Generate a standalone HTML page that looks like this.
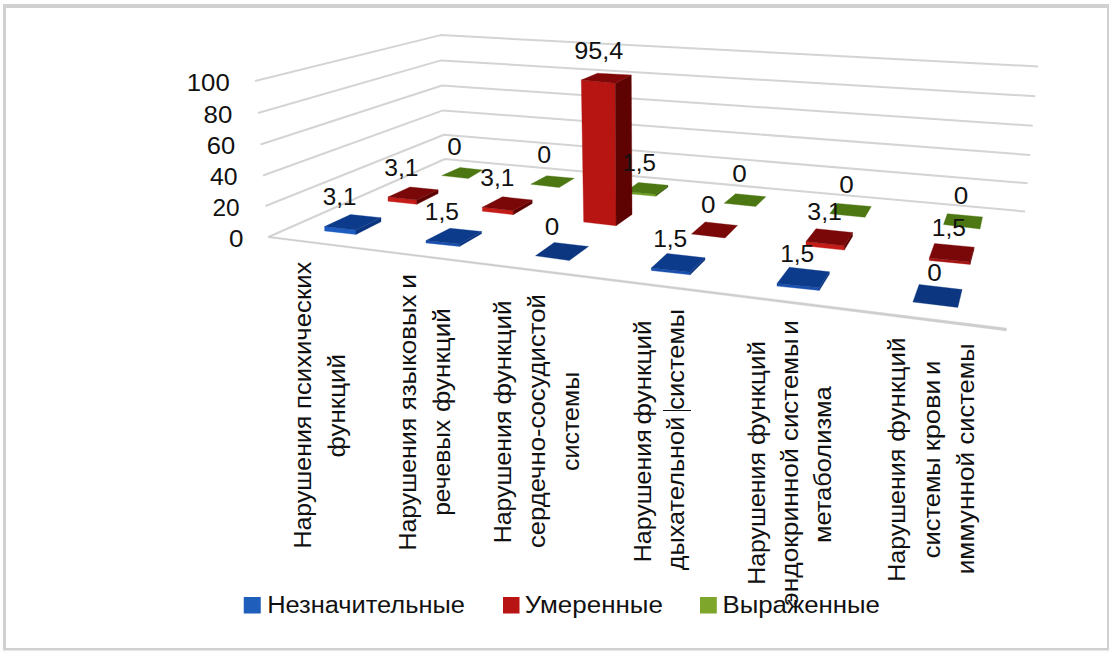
<!DOCTYPE html>
<html><head><meta charset="utf-8"><title>Chart</title>
<style>html,body{margin:0;padding:0;background:#fefefe;}svg{display:block;}</style></head>
<body><svg width="1112" height="653" viewBox="0 0 1112 653">
<rect x="0" y="0" width="1112" height="653" fill="#fefefe"/>
<path fill-rule="evenodd" fill="#d0d0d0" d="M3,4 H1109 V650.5 H3 Z M6,8 H1107 V648 H6 Z"/>
<rect x="6" y="8" width="1101" height="640" fill="#ffffff"/>
<polyline points="255.00,81.00 440.60,35.10 1038.25,66.50" fill="none" stroke="#d4d4d4" stroke-width="2.00" stroke-linejoin="round"/>
<polyline points="258.00,113.00 441.00,60.40 1035.25,96.25" fill="none" stroke="#d4d4d4" stroke-width="2.00" stroke-linejoin="round"/>
<polyline points="260.50,144.50 442.00,85.50 1032.75,125.75" fill="none" stroke="#d4d4d4" stroke-width="2.00" stroke-linejoin="round"/>
<polyline points="263.00,175.50 443.00,110.40 1030.25,155.00" fill="none" stroke="#d4d4d4" stroke-width="2.00" stroke-linejoin="round"/>
<polyline points="265.50,206.00 444.00,134.70 1027.60,183.20" fill="none" stroke="#d4d4d4" stroke-width="2.00" stroke-linejoin="round"/>
<polyline points="268.50,237.00 445.00,159.00 1025.00,211.50" fill="none" stroke="#d4d4d4" stroke-width="2.00" stroke-linejoin="round"/>
<polygon points="268.50,236.30 1006.50,328.10 1006.50,330.90 268.50,237.70" fill="#cecece" stroke="#cecece" stroke-width="0.35" stroke-linejoin="round" />
<polygon points="441.80,175.60 460.00,167.50 482.50,170.00 468.30,178.50" fill="#4c7712" stroke="#4c7712" stroke-width="0.35" stroke-linejoin="round" />
<polygon points="530.80,184.20 546.70,175.80 574.20,178.30 559.20,187.50" fill="#4c7712" stroke="#4c7712" stroke-width="0.35" stroke-linejoin="round" />
<polygon points="626.00,191.60 655.80,194.20 655.80,196.20 626.00,193.60" fill="#6f9f22" stroke="#6f9f22" stroke-width="0.35" stroke-linejoin="round" />
<polygon points="655.80,194.20 668.00,185.30 668.00,187.10 655.80,196.20" fill="#3c5e0c" stroke="#3c5e0c" stroke-width="0.35" stroke-linejoin="round" />
<polygon points="626.00,191.60 638.30,182.50 668.00,185.30 655.80,194.20" fill="#4c7712" stroke="#4c7712" stroke-width="0.35" stroke-linejoin="round" />
<polygon points="724.20,203.30 735.50,193.80 765.80,196.70 755.70,206.50" fill="#4c7712" stroke="#4c7712" stroke-width="0.35" stroke-linejoin="round" />
<polygon points="829.80,213.70 837.20,203.40 871.30,206.50 865.00,217.30" fill="#4c7712" stroke="#4c7712" stroke-width="0.35" stroke-linejoin="round" />
<polygon points="943.50,224.50 947.30,213.70 982.50,217.00 980.00,229.00" fill="#4c7712" stroke="#4c7712" stroke-width="0.35" stroke-linejoin="round" />
<polygon points="388.00,197.00 416.80,200.10 416.80,204.30 388.00,201.20" fill="#c61c18" stroke="#c61c18" stroke-width="0.35" stroke-linejoin="round" />
<polygon points="416.80,200.10 438.10,189.80 438.10,193.58 416.80,204.30" fill="#5c0000" stroke="#5c0000" stroke-width="0.35" stroke-linejoin="round" />
<polygon points="388.00,197.00 410.00,187.00 438.10,189.80 416.80,200.10" fill="#7a0808" stroke="#7a0808" stroke-width="0.35" stroke-linejoin="round" />
<polygon points="482.40,207.20 513.20,210.70 513.20,214.70 482.40,211.20" fill="#c61c18" stroke="#c61c18" stroke-width="0.35" stroke-linejoin="round" />
<polygon points="513.20,210.70 532.20,200.00 532.20,203.60 513.20,214.70" fill="#5c0000" stroke="#5c0000" stroke-width="0.35" stroke-linejoin="round" />
<polygon points="482.40,207.20 502.50,196.80 532.20,200.00 513.20,210.70" fill="#7a0808" stroke="#7a0808" stroke-width="0.35" stroke-linejoin="round" />
<polygon points="581.30,80.00 615.30,83.20 616.10,225.80 583.70,222.00" fill="#b61512" stroke="#b61512" stroke-width="0.35" stroke-linejoin="round" />
<polygon points="615.30,83.20 631.30,75.00 632.00,214.50 616.10,225.80" fill="#5e0202" stroke="#5e0202" stroke-width="0.35" stroke-linejoin="round" />
<polygon points="581.30,80.00 597.50,73.20 631.30,75.00 615.30,83.20" fill="#7f0707" stroke="#7f0707" stroke-width="0.35" stroke-linejoin="round" />
<polygon points="691.50,234.00 705.20,222.00 737.50,225.50 725.00,237.90" fill="#7a0808" stroke="#7a0808" stroke-width="0.35" stroke-linejoin="round" />
<polygon points="806.00,241.50 844.30,245.70 844.30,250.10 806.00,245.90" fill="#c61c18" stroke="#c61c18" stroke-width="0.35" stroke-linejoin="round" />
<polygon points="844.30,245.70 852.50,232.50 852.50,236.46 844.30,250.10" fill="#5c0000" stroke="#5c0000" stroke-width="0.35" stroke-linejoin="round" />
<polygon points="806.00,241.50 816.00,228.70 852.50,232.50 844.30,245.70" fill="#7a0808" stroke="#7a0808" stroke-width="0.35" stroke-linejoin="round" />
<polygon points="929.30,258.00 970.00,262.00 970.00,264.40 929.30,260.40" fill="#a91513" stroke="#a91513" stroke-width="0.35" stroke-linejoin="round" />
<polygon points="970.00,262.00 974.00,247.20 974.00,249.36 970.00,264.40" fill="#5c0000" stroke="#5c0000" stroke-width="0.35" stroke-linejoin="round" />
<polygon points="929.30,258.00 934.50,243.50 974.00,247.20 970.00,262.00" fill="#7a0808" stroke="#7a0808" stroke-width="0.35" stroke-linejoin="round" />
<polygon points="324.60,226.50 356.00,230.00 356.00,234.40 324.60,230.90" fill="#1d5cc0" stroke="#1d5cc0" stroke-width="0.35" stroke-linejoin="round" />
<polygon points="356.00,230.00 381.00,217.70 381.00,221.66 356.00,234.40" fill="#0c3580" stroke="#0c3580" stroke-width="0.35" stroke-linejoin="round" />
<polygon points="324.60,226.50 350.50,214.60 381.00,217.70 356.00,230.00" fill="#0d3b8c" stroke="#0d3b8c" stroke-width="0.35" stroke-linejoin="round" />
<polygon points="426.00,240.50 459.50,244.00 459.50,246.40 426.00,242.90" fill="#194fae" stroke="#194fae" stroke-width="0.35" stroke-linejoin="round" />
<polygon points="459.50,244.00 481.50,231.50 481.50,233.66 459.50,246.40" fill="#0c3580" stroke="#0c3580" stroke-width="0.35" stroke-linejoin="round" />
<polygon points="426.00,240.50 450.00,228.30 481.50,231.50 459.50,244.00" fill="#0d3b8c" stroke="#0d3b8c" stroke-width="0.35" stroke-linejoin="round" />
<polygon points="535.50,255.80 554.30,242.50 588.50,246.50 569.30,260.50" fill="#0c3680" stroke="#0c3680" stroke-width="0.35" stroke-linejoin="round" />
<polygon points="651.30,268.00 690.20,272.30 690.20,274.80 651.30,270.50" fill="#194fae" stroke="#194fae" stroke-width="0.35" stroke-linejoin="round" />
<polygon points="690.20,272.30 705.00,257.80 705.00,260.05 690.20,274.80" fill="#0c3580" stroke="#0c3580" stroke-width="0.35" stroke-linejoin="round" />
<polygon points="651.30,268.00 667.00,253.50 705.00,257.80 690.20,272.30" fill="#0d3b8c" stroke="#0d3b8c" stroke-width="0.35" stroke-linejoin="round" />
<polygon points="777.00,283.50 819.30,287.80 819.30,290.40 777.00,286.10" fill="#194fae" stroke="#194fae" stroke-width="0.35" stroke-linejoin="round" />
<polygon points="819.30,287.80 829.30,271.80 829.30,274.14 819.30,290.40" fill="#0c3580" stroke="#0c3580" stroke-width="0.35" stroke-linejoin="round" />
<polygon points="777.00,283.50 789.30,267.30 829.30,271.80 819.30,287.80" fill="#0d3b8c" stroke="#0d3b8c" stroke-width="0.35" stroke-linejoin="round" />
<polygon points="912.90,302.00 919.10,284.50 962.10,289.50 957.80,307.40" fill="#0c3680" stroke="#0c3680" stroke-width="0.35" stroke-linejoin="round" />
<g font-family="Liberation Sans, sans-serif" fill="#111111">
<text transform="translate(186.77,90.60) scale(1.0630,1)" font-size="24.20">100</text>
<text transform="translate(203.54,122.70) scale(1.0672,1)" font-size="24.20">80</text>
<text transform="translate(206.72,154.20) scale(1.0562,1)" font-size="24.20">60</text>
<text transform="translate(210.00,184.70) scale(1.0262,1)" font-size="24.20">40</text>
<text transform="translate(212.48,216.10) scale(1.0119,1)" font-size="24.20">20</text>
<text transform="translate(228.96,246.70) scale(1.0761,1)" font-size="24.20">0</text>
<text transform="translate(322.73,204.80) scale(0.9965,1)" font-size="24.30">3,1</text>
<text transform="translate(384.31,176.40) scale(1.0154,1)" font-size="24.30">3,1</text>
<text transform="translate(447.26,155.00) scale(1.0717,1)" font-size="24.30">0</text>
<text transform="translate(424.86,219.80) scale(1.0102,1)" font-size="24.30">1,5</text>
<text transform="translate(480.32,186.10) scale(1.0091,1)" font-size="24.30">3,1</text>
<text transform="translate(537.30,162.60) scale(1.0288,1)" font-size="24.30">0</text>
<text transform="translate(544.76,234.80) scale(1.0717,1)" font-size="24.30">0</text>
<text transform="translate(574.16,59.30) scale(1.0387,1)" font-size="24.30">95,4</text>
<text transform="translate(622.39,171.40) scale(0.9941,1)" font-size="24.30">1,5</text>
<text transform="translate(653.16,246.80) scale(1.0102,1)" font-size="24.30">1,5</text>
<text transform="translate(700.96,213.10) scale(1.0717,1)" font-size="24.30">0</text>
<text transform="translate(732.26,181.80) scale(1.0717,1)" font-size="24.30">0</text>
<text transform="translate(780.16,261.80) scale(1.0102,1)" font-size="24.30">1,5</text>
<text transform="translate(807.30,219.80) scale(1.0249,1)" font-size="24.30">3,1</text>
<text transform="translate(839.26,192.80) scale(1.0717,1)" font-size="24.30">0</text>
<text transform="translate(927.26,280.60) scale(1.0717,1)" font-size="24.30">0</text>
<text transform="translate(931.86,235.60) scale(1.0102,1)" font-size="24.30">1,5</text>
<text transform="translate(953.66,204.40) scale(1.0717,1)" font-size="24.30">0</text>
<text transform="translate(311.10,548.49) rotate(-90) scale(1.0556,1)" font-size="23.60">Нарушения</text>
<text transform="translate(311.10,409.00) rotate(-90) scale(1.0904,1)" font-size="23.60">психических</text>
<text transform="translate(344.60,457.44) rotate(-90) scale(1.0983,1)" font-size="23.60">функций</text>
<text transform="translate(415.60,550.59) rotate(-90) scale(1.0556,1)" font-size="23.60">Нарушения</text>
<text transform="translate(415.60,410.26) rotate(-90) scale(1.0967,1)" font-size="23.60">языковых</text>
<text transform="translate(415.60,288.87) rotate(-90) scale(1.1299,1)" font-size="23.60">и</text>
<text transform="translate(449.90,515.80) rotate(-90) scale(1.0422,1)" font-size="23.60">речевых</text>
<text transform="translate(449.90,412.04) rotate(-90) scale(1.1016,1)" font-size="23.60">функций</text>
<text transform="translate(510.90,543.29) rotate(-90) scale(1.0556,1)" font-size="23.60">Нарушения</text>
<text transform="translate(510.90,404.55) rotate(-90) scale(1.1070,1)" font-size="23.60">функций</text>
<text transform="translate(545.10,548.03) rotate(-90) scale(1.0872,1)" font-size="23.60">сердечно-сосудистой</text>
<text transform="translate(579.40,471.00) rotate(-90) scale(1.0593,1)" font-size="23.60">системы</text>
<text transform="translate(650.70,562.19) rotate(-90) scale(1.0556,1)" font-size="23.60">Нарушения</text>
<text transform="translate(650.70,424.55) rotate(-90) scale(1.1070,1)" font-size="23.60">функций</text>
<text transform="translate(684.00,570.25) rotate(-90) scale(1.0731,1)" font-size="23.60">дыхательной</text>
<text transform="translate(684.00,409.72) rotate(-90) scale(1.0780,1)" font-size="23.60">системы</text>
<text transform="translate(765.10,584.79) rotate(-90) scale(1.0556,1)" font-size="23.60">Нарушения</text>
<text transform="translate(765.10,445.05) rotate(-90) scale(1.1070,1)" font-size="23.60">функций</text>
<text transform="translate(797.80,605.66) rotate(-90) scale(1.1170,1)" font-size="23.60">эндокринной</text>
<text transform="translate(797.80,441.04) rotate(-90) scale(1.0977,1)" font-size="23.60">системы</text>
<text transform="translate(797.80,334.83) rotate(-90) scale(1.1098,1)" font-size="23.60">и</text>
<text transform="translate(831.00,543.03) rotate(-90) scale(1.0779,1)" font-size="23.60">метаболизма</text>
<text transform="translate(904.70,581.69) rotate(-90) scale(1.0556,1)" font-size="23.60">Нарушения</text>
<text transform="translate(904.70,441.65) rotate(-90) scale(1.1070,1)" font-size="23.60">функций</text>
<text transform="translate(939.50,558.22) rotate(-90) scale(1.0780,1)" font-size="23.60">системы</text>
<text transform="translate(939.50,451.27) rotate(-90) scale(1.1536,1)" font-size="23.60">крови</text>
<text transform="translate(939.50,375.10) rotate(-90) scale(1.0896,1)" font-size="23.60">и</text>
<text transform="translate(973.50,574.34) rotate(-90) scale(1.1134,1)" font-size="23.60">иммунной</text>
<text transform="translate(973.50,444.62) rotate(-90) scale(1.0824,1)" font-size="23.60">системы</text>
<text transform="translate(267.17,612.50) scale(1.0502,1)" font-size="24.20">Незначительные</text>
<text transform="translate(524.72,612.50) scale(1.0724,1)" font-size="24.20">Умеренные</text>
<text transform="translate(722.43,612.50) scale(1.0671,1)" font-size="24.20">Выраженные</text>
</g>
<rect x="243.75" y="597" width="17" height="16.5" fill="#1f5ebb"/>
<rect x="503" y="597" width="16.5" height="16.5" fill="#b81414"/>
<rect x="700" y="597" width="16.8" height="16.5" fill="#7da62a"/>
<rect x="663" y="410" width="28" height="1" fill="#111"/>
</svg></body></html>
